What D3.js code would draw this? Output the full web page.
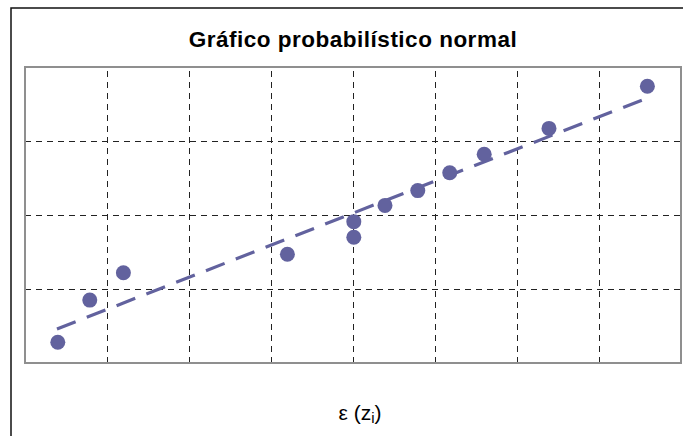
<!DOCTYPE html>
<html><head><meta charset="utf-8">
<script src="https://cdn.jsdelivr.net/npm/d3@7"></script>
<style>body{margin:0;background:#fff}svg{display:block}</style>
</head><body>
<svg id="c" width="683" height="436"></svg>
<script>
// Data
const residuals = [-3.60, -3.21, -2.80, -0.80, 0.01, 0.01, 0.39, 0.79, 1.18, 1.60, 2.39, 3.59];
const normalScores = [-1.72, -1.15, -0.78, -0.53, -0.30, -0.09, 0.13, 0.33, 0.57, 0.82, 1.17, 1.74];
const fitX = [-3.61, 3.61];
const fitY = [-1.54, 1.59];
const xTicks = [-3, -2, -1, 0, 1, 2, 3];
const yTicks = [-1, 0, 1];
const titleText = "Gráfico probabilístico normal";

const svg = d3.select("#c");
const L = 25, R = 681, T = 67, B = 363;
const x = d3.scaleLinear().domain([-4, 4]).range([L, R]);
const y = d3.scaleLinear().domain([-2, 2]).range([B, T]);
const col = "#62629e";

// outer frame
svg.append("rect").attr("x", 11).attr("y", 8).attr("width", 720).attr("height", 520)
  .attr("fill", "none").attr("stroke", "#111").attr("stroke-width", 1.5);

// title
svg.append("text").attr("x", (L + R) / 2).attr("y", 47).attr("text-anchor", "middle")
  .attr("font-family", "Liberation Sans, Arial, sans-serif").attr("font-weight", "bold")
  .attr("font-size", 22.5).attr("letter-spacing", 0.5).attr("fill", "#000").text(titleText);

// grid via axes
const gx = svg.append("g").attr("transform", `translate(0,${B})`)
  .call(d3.axisBottom(x).tickValues(xTicks).tickSize(-(B - T)).tickFormat(""));
const gy = svg.append("g").attr("transform", `translate(${L},0)`)
  .call(d3.axisLeft(y).tickValues(yTicks).tickSize(-(R - L)).tickFormat(""));
[gx, gy].forEach(g => {
  g.select(".domain").remove();
  g.selectAll(".tick line").attr("stroke", "#222").attr("stroke-width", 1)
    .attr("stroke-dasharray", "6,5");
});

// plot border
svg.append("rect").attr("x", L).attr("y", T).attr("width", R - L).attr("height", B - T)
  .attr("fill", "none").attr("stroke", "#8f8f8f").attr("stroke-width", 2);

// fit line
const line = d3.line().x(d => x(d[0])).y(d => y(d[1]));
svg.append("path").datum(d3.zip(fitX, fitY)).attr("d", line)
  .attr("fill", "none").attr("stroke", col).attr("stroke-width", 3.2)
  .attr("stroke-dasharray", "20,12");

// points
svg.append("g").selectAll("circle").data(d3.zip(residuals, normalScores)).join("circle")
  .attr("cx", d => x(d[0])).attr("cy", d => y(d[1])).attr("r", 7.5).attr("fill", col);

// x label
const lab = svg.append("text").attr("x", 360).attr("y", 420).attr("text-anchor", "middle")
  .attr("font-family", "Liberation Sans, Arial, sans-serif").attr("font-size", 21).attr("fill", "#000");
lab.append("tspan").text("ε  (z");
lab.append("tspan").attr("font-size", 15).attr("dy", 3).text("i");
lab.append("tspan").attr("dy", -3).text(")");
</script>
</body></html>
